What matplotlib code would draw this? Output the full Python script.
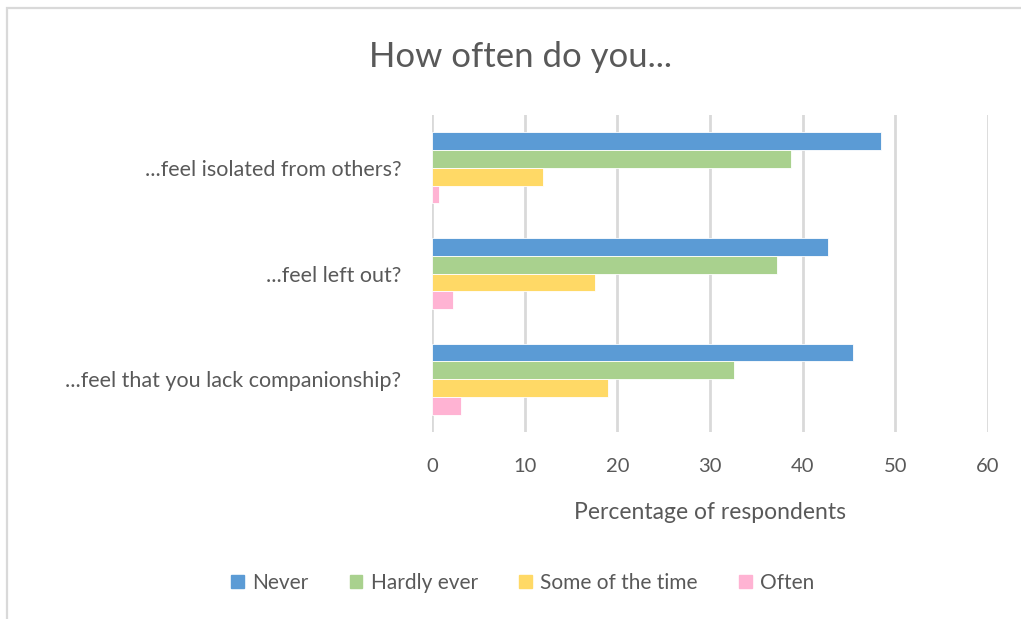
import matplotlib.pyplot as plt
import matplotlib.patches as patch
import numpy as np

plt.rcParams['font.family'] = ['Lato', 'DejaVu Sans']

# survey questions, top to bottom
questions = ['...feel isolated from others?',
             '...feel left out?',
             '...feel that you lack companionship?']
answers = ['Never', 'Hardly ever', 'Some of the time', 'Often']
never = [48.4, 42.7, 45.4]
hardly_ever = [38.7, 37.2, 32.6]
some_of_time = [12.0, 17.6, 19.0]
often = [0.8, 2.3, 3.1]
xticks = [0, 10, 20, 30, 40, 50, 60]

colors = ['#5B9BD5', '#A9D18E', '#FFD966', '#FFB3D3']
textcol = '#595959'
gridcol = '#D9D9D9'

fig = plt.figure(figsize=(10.21, 6.19), dpi=100)
ax = fig.add_axes([0.4231, 0.3021, 0.5446, 0.5121])

y = np.arange(len(questions))
h = 0.168
series = [never, hardly_ever, some_of_time, often]
for i, (vals, c, lab) in enumerate(zip(series, colors, answers)):
    ax.barh(y + (i - 1.5) * h, vals, height=h, color=c, label=lab,
            edgecolor='white', linewidth=0.6, zorder=3)

ax.set_xlim(0, 60)
ax.set_ylim(2.5, -0.5)
ax.set_xticks(xticks)
ax.set_yticks(y)
ax.set_yticklabels(questions)
ax.grid(axis='x', color=gridcol, linewidth=2, zorder=0)
for s in ax.spines.values():
    s.set_visible(False)
ax.tick_params(axis='both', length=0, colors=textcol, labelsize=14.5)
ax.tick_params(axis='y', labelsize=15.5)
ax.tick_params(axis='x', pad=19)
ax.tick_params(axis='y', pad=22)
ax.set_xlabel('Percentage of respondents', fontsize=16.5, color=textcol, labelpad=19)

fig.text(0.510, 1 - 57 / 619, 'How often do you...', ha='center', va='center',
         fontsize=25, color=textcol)

handles = [patch.Patch(color=c, label=a) for c, a in zip(colors, answers)]
fig.legend(handles=handles, loc='center', bbox_to_anchor=(0.512, 1 - 583 / 619),
           ncol=4, frameon=False, fontsize=15, labelcolor=textcol,
           handlelength=0.6, handleheight=0.6, handletextpad=0.4,
           columnspacing=2.0)

# chart border, left and top edges only in view
fig.add_artist(patch.Rectangle((7 / 1021, -0.1), 1.2, 1.1 - 8 / 619,
                               transform=fig.transFigure, fill=False,
                               edgecolor=gridcol, linewidth=1.6))

fig.savefig('out.png', dpi=100)
